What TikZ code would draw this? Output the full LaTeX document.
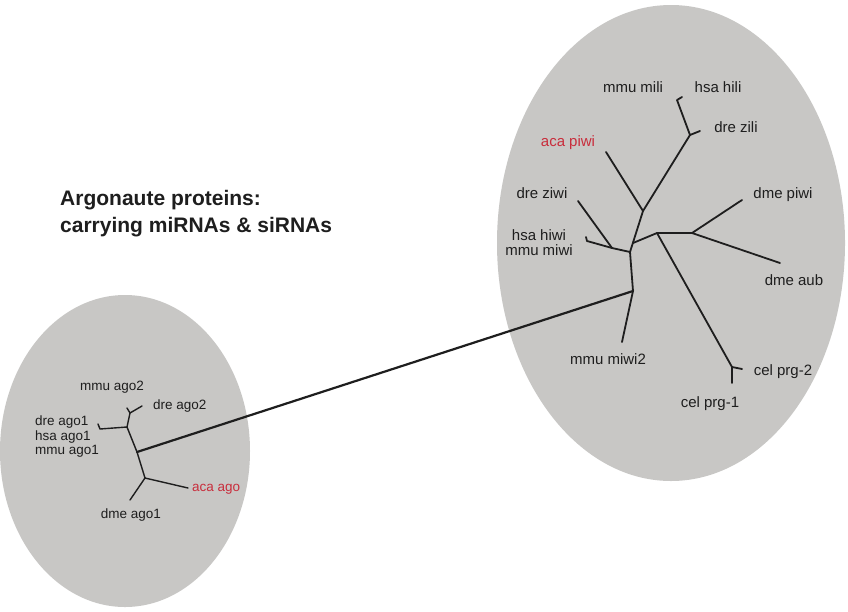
\documentclass[tikz,border=0pt]{standalone}
\usepackage{fontspec}
\setmainfont{Liberation Sans}
\definecolor{blob}{RGB}{200,199,197}
\definecolor{redlab}{RGB}{200,45,60}
\definecolor{ink}{RGB}{30,30,30}
\begin{document}
\begin{tikzpicture}[x=1pt,y=-1pt,
  branch/.style={line width=1.8pt, draw=ink, line cap=round, line join=round},
  thinbranch/.style={line width=1.4pt, draw=ink, line cap=round, line join=round},
  biglab/.style={inner sep=0pt, text=ink, font=\fontsize{15}{15}\selectfont},
  smalllab/.style={inner sep=0pt, text=ink, font=\fontsize{13.5}{14.5}\selectfont},
  redtext/.style={text=redlab}]
\useasboundingbox (0,0) rectangle (848,611);
\fill[white] (0,0) rectangle (848,611);
% blobs
\fill[blob] (125,451) ellipse [x radius=125, y radius=156];
\fill[blob] (671,243) ellipse [x radius=174, y radius=238];
% title
\node[inner sep=0pt, anchor=base west, text=ink, font=\bfseries\fontsize{21}{27}\selectfont] (title1) at (60,205) {Argonaute proteins:};
\node[inner sep=0pt, anchor=base west, text=ink, font=\bfseries\fontsize{21}{27}\selectfont] (title2) at (60,232) {carrying miRNAs \& siRNAs};
% left tree coordinates
\coordinate (L1) at (130,413);
\coordinate (Lmmu2) at (127,408);
\coordinate (Ldre2) at (142,406);
\coordinate (L2) at (127,427);
\coordinate (Ldre1) at (100,429);
\coordinate (Ldre1h) at (98,424);
\coordinate (Lc) at (137,452);
\coordinate (L3) at (145,478);
\coordinate (Laca) at (188,488);
\coordinate (Ldme) at (130,500);
\draw[thinbranch] (Lmmu2) -- (L1) -- (Ldre2);
\draw[thinbranch] (L1) -- (L2);
\draw[thinbranch] (Ldre1h) -- (Ldre1) -- (L2) -- (Lc) -- (L3) -- (Laca);
\draw[thinbranch] (L3) -- (Ldme);
% right tree coordinates
\coordinate (A) at (630,252);
\coordinate (A2) at (633,243);
\coordinate (Rc) at (633,291);
\coordinate (Rmiwi2) at (622,342);
\coordinate (Rz) at (612,248);
\coordinate (Rziwi) at (578,201);
\coordinate (Rhiwi) at (587,241);
\coordinate (Rhiwih) at (586,237);
\coordinate (Rp) at (643,211);
\coordinate (Raca) at (606,152);
\coordinate (Ry) at (690,135);
\coordinate (Rzili) at (700,131);
\coordinate (Rmili) at (677,100);
\coordinate (Rmilih) at (682,97);
\coordinate (B) at (657,233);
\coordinate (C) at (692,233);
\coordinate (Rpiwi) at (742,200);
\coordinate (Raub) at (780,263);
\coordinate (Rcel) at (732,367);
\coordinate (Rprg1) at (732,383);
\coordinate (Rprg2) at (742,369);
\draw[branch] (Rziwi) -- (Rz);
\draw[branch] (Rhiwih) -- (Rhiwi) -- (Rz) -- (A);
\draw[branch] (A) -- (Rc) -- (Rmiwi2);
\draw[branch] (A) -- (Rp) -- (Ry) -- (Rmili) -- (Rmilih);
\draw[branch] (Ry) -- (Rzili);
\draw[branch] (Rp) -- (Raca);
\draw[branch] (A2) -- (B) -- (C) -- (Rpiwi);
\draw[branch] (C) -- (Raub);
\draw[branch] (B) -- (Rcel) -- (Rprg1);
\draw[branch] (Rcel) -- (Rprg2);
% connector between clusters
\draw[line width=2.2pt, draw=ink, line cap=round] (Lc) -- (Rc);
% left labels
\node[smalllab] (mmuago2) at (112,387) {mmu ago2};
\node[smalllab, anchor=west] (dreago2) at (153,406) {dre ago2};
\node[smalllab, anchor=west, align=left] (ago1) at (35,437) {dre ago1\\hsa ago1\\mmu ago1};
\node[smalllab, redtext, anchor=west] (acaago) at (192,489) {aca ago};
\node[smalllab] (dmeago1) at (131,515) {dme ago1};
% right labels
\node[biglab] (mmumili) at (633,87) {mmu mili};
\node[biglab] (hsahili) at (718,87) {hsa hili};
\node[biglab] (drezili) at (736,127) {dre zili};
\node[biglab, redtext] (acapiwi) at (568,143) {aca piwi};
\node[biglab] (dreziwi) at (542,193) {dre ziwi};
\node[biglab] (dmepiwi) at (783,195) {dme piwi};
\node[biglab, align=center] (hiwi) at (539,242.5) {hsa hiwi\\mmu miwi};
\node[biglab] (dmeaub) at (794,280) {dme aub};
\node[biglab] (mmumiwi2) at (608,359) {mmu miwi2};
\node[biglab] (celprg2) at (783,372) {cel prg-2};
\node[biglab] (celprg1) at (710,404) {cel prg-1};
\end{tikzpicture}
\end{document}
